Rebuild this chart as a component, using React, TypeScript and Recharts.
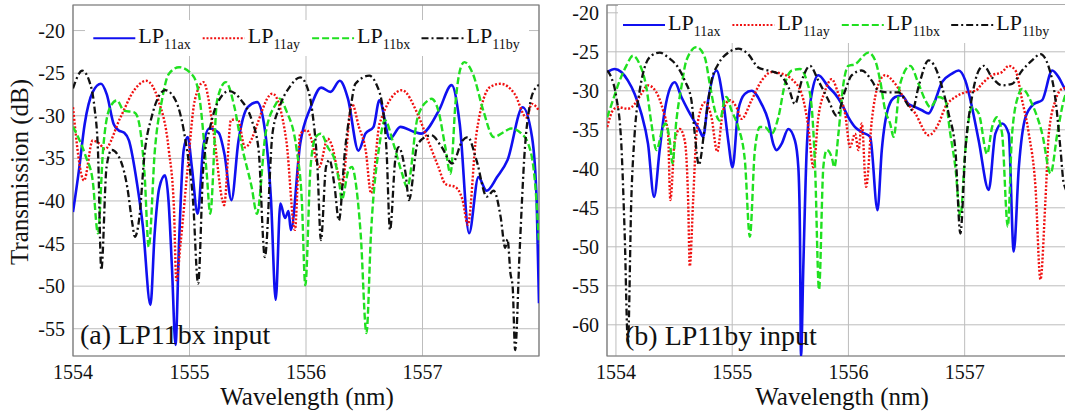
import React from 'react';
import { LineChart, Line, XAxis, YAxis, CartesianGrid, Legend, ReferenceArea } from 'recharts';

type Pt = [number, number];

// ---------- axis / label values ----------
const wavelengthTicks = [1554, 1555, 1556, 1557];
const leftTransTicks = [-55, -50, -45, -40, -35, -30, -25, -20];
const rightTransTicks = [-60, -55, -50, -45, -40, -35, -30, -25, -20];
const seriesNames = ['LP11ax', 'LP11ay', 'LP11bx', 'LP11by'];
const seriesSubs = ['11ax', '11ay', '11bx', '11by'];
const panelTitles = ['(a) LP11bx input', '(b) LP11by input'];
const xTitle = 'Wavelength (nm)';
const yTitle = 'Transmission (dB)';

// ---------- (a) LP11bx input : [wavelength nm, transmission dB] ----------
const inA_LP11ax: Pt[] = [
  [1554.0, -41.3], [1554.05, -36.5], [1554.1, -31], [1554.17, -27.2], [1554.24, -26.25], [1554.29, -27.5],
  [1554.35, -31], [1554.39, -31.7], [1554.44, -32], [1554.48, -32.9], [1554.55, -38], [1554.6, -43],
  [1554.665, -52.2], [1554.7, -44], [1554.74, -38.5], [1554.79, -37.0], [1554.82, -40], [1554.85, -48],
  [1554.88, -56.9], [1554.91, -45], [1554.95, -34], [1554.985, -32.5], [1555.02, -36], [1555.07, -41.5],
  [1555.12, -33.5], [1555.17, -31.5], [1555.25, -32], [1555.3, -34.5], [1555.36, -39.9], [1555.42, -33],
  [1555.5, -29], [1555.58, -28.4], [1555.64, -31], [1555.7, -40], [1555.74, -51.6], [1555.78, -40.3],
  [1555.82, -42], [1555.85, -41.2], [1555.87, -43.4], [1555.95, -33.3], [1556.04, -29], [1556.13, -26.7],
  [1556.21, -27.2], [1556.29, -25.9], [1556.36, -28], [1556.45, -34.1], [1556.51, -32.1], [1556.58, -31.3],
  [1556.63, -28.2], [1556.72, -32.7], [1556.81, -31.3], [1556.93, -31.9], [1556.99, -32.1], [1557.14, -29.4],
  [1557.25, -26.4], [1557.32, -31], [1557.4, -43.8], [1557.48, -37.2], [1557.55, -38.8], [1557.64, -37.2],
  [1557.73, -35.2], [1557.86, -29], [1557.94, -32.5], [1557.98, -40], [1558.0, -52],
];
const inA_LP11ay: Pt[] = [
  [1554.0, -29], [1554.095, -37.6], [1554.169, -32.9], [1554.228, -33.3], [1554.273, -33.9], [1554.407, -30.2],
  [1554.525, -27], [1554.629, -25.9], [1554.733, -28.2], [1554.822, -34], [1554.866, -40.7], [1554.887, -49.3],
  [1554.926, -44.6], [1554.985, -36], [1555.045, -28.2], [1555.119, -26.05], [1555.208, -32.1], [1555.282, -39.9],
  [1555.297, -40.5], [1555.356, -30.5], [1555.415, -30.4], [1555.475, -33.7], [1555.712, -27.4], [1555.831, -32.9],
  [1555.905, -43.4], [1555.95, -32.1], [1556.009, -31.7], [1556.039, -32.5], [1556.113, -36], [1556.187, -32.7],
  [1556.217, -33.3], [1556.276, -36.8], [1556.306, -38.4], [1556.395, -28.6], [1556.454, -31.3], [1556.513, -34.1],
  [1556.558, -39.1], [1556.632, -30.9], [1556.825, -27], [1556.958, -29.8], [1557.047, -32.9], [1557.136, -36],
  [1557.196, -38], [1557.285, -38.4], [1557.344, -39.9], [1557.389, -42.8], [1557.463, -32.1], [1557.582, -26.6],
  [1557.671, -26.25], [1557.789, -27.4], [1557.893, -30.2], [1557.938, -28.6], [1558.0, -29.4],
];
const inA_LP11bx: Pt[] = [
  [1554.0, -31.3], [1554.11, -34.8], [1554.169, -37.6], [1554.214, -43.8], [1554.258, -34], [1554.318, -29],
  [1554.377, -28.2], [1554.436, -29.4], [1554.525, -29.6], [1554.555, -30.2], [1554.614, -36.8], [1554.65, -45.4],
  [1554.703, -34], [1554.763, -28.2], [1554.822, -25.1], [1554.911, -24.3], [1555.03, -25.3], [1555.089, -28.2],
  [1555.148, -36.8], [1555.178, -41.5], [1555.237, -28.2], [1555.312, -26.05], [1555.386, -29], [1555.445, -33.3],
  [1555.534, -38.4], [1555.579, -41.5], [1555.653, -32.1], [1555.742, -28.6], [1555.772, -28], [1555.831, -29.4],
  [1555.92, -34], [1555.964, -39.9], [1555.994, -49.9], [1556.039, -36], [1556.083, -32.5], [1556.128, -32.1],
  [1556.187, -33.7], [1556.246, -35.2], [1556.291, -38.4], [1556.306, -39.9], [1556.365, -36.4], [1556.395, -36],
  [1556.424, -37.6], [1556.469, -43.8], [1556.519, -55.5], [1556.558, -43.8], [1556.632, -33.3], [1556.677, -30.5],
  [1556.751, -33.3], [1556.825, -36.8], [1556.869, -38.4], [1556.958, -30.2], [1557.047, -28.2], [1557.077, -28],
  [1557.136, -29.4], [1557.196, -33.7], [1557.24, -36.8], [1557.285, -28.2], [1557.329, -24.3], [1557.359, -23.7],
  [1557.433, -25.1], [1557.522, -29.4], [1557.611, -32.5], [1557.7, -31.9], [1557.76, -31.5], [1557.849, -32.1],
  [1557.908, -33.3], [1557.967, -38], [1558.0, -45],
];
const inA_LP11by: Pt[] = [
  [1554.0, -26.8], [1554.08, -24.7], [1554.139, -25.9], [1554.184, -29], [1554.214, -34], [1554.243, -48.1],
  [1554.288, -36], [1554.332, -34], [1554.407, -35.2], [1554.466, -38.4], [1554.51, -42.7], [1554.531, -44.2],
  [1554.57, -41.9], [1554.614, -34.5], [1554.674, -30.2], [1554.792, -27], [1554.881, -28.2], [1554.97, -33.3],
  [1555.03, -39.9], [1555.074, -49.7], [1555.119, -36], [1555.178, -31.3], [1555.237, -28.6], [1555.341, -27.1],
  [1555.445, -28.2], [1555.534, -30.5], [1555.593, -34], [1555.647, -46.6], [1555.712, -32.1], [1555.772, -29],
  [1555.861, -26.6], [1555.95, -25.5], [1556.009, -26.6], [1556.053, -29.4], [1556.098, -36], [1556.128, -44.6],
  [1556.172, -36], [1556.202, -35.2], [1556.246, -38.4], [1556.282, -42.3], [1556.335, -34], [1556.38, -29.4],
  [1556.424, -26.25], [1556.543, -25.3], [1556.602, -26.25], [1556.662, -29.4], [1556.691, -34], [1556.721, -43.4],
  [1556.766, -35.2], [1556.795, -33.7], [1556.855, -36.8], [1556.884, -39.9], [1556.958, -33.3], [1557.077, -32.3],
  [1557.166, -33.7], [1557.255, -35.6], [1557.344, -32.9], [1557.389, -32.5], [1557.463, -35.2], [1557.552, -39.5],
  [1557.611, -38.8], [1557.671, -41.9], [1557.71, -45.5], [1557.73, -44.5], [1557.755, -48.5], [1557.774, -50.1],
  [1557.795, -57.5], [1557.834, -45.8], [1557.878, -34], [1557.923, -28.6], [1557.967, -26.8], [1558.0, -26.4],
];

// ---------- (b) LP11by input ----------
const inB_LP11ax: Pt[] = [
  [1553.925, -27.6], [1553.989, -27.2], [1554.046, -27.6], [1554.103, -28.7], [1554.161, -30.4], [1554.218, -32.9],
  [1554.276, -36.8], [1554.328, -43.6], [1554.376, -37.6], [1554.42, -32.5], [1554.463, -29.75], [1554.506, -28.9],
  [1554.563, -30.8], [1554.621, -32.5], [1554.678, -34.0], [1554.721, -35.1], [1554.75, -35.9], [1554.793, -31.2],
  [1554.865, -27.4], [1554.922, -31.2], [1554.966, -36.4], [1555.003, -39.8], [1555.052, -32.5], [1555.109, -30.4],
  [1555.167, -30.0], [1555.253, -31.7], [1555.31, -33.8], [1555.353, -36.8], [1555.382, -37.6], [1555.425, -36.8],
  [1555.483, -34.9], [1555.54, -36.4], [1555.569, -39.8], [1555.583, -48.3], [1555.592, -64], [1555.612, -52.5],
  [1555.641, -37.6], [1555.684, -30.4], [1555.741, -28.0], [1555.828, -29.5], [1555.885, -30.4], [1555.943, -31.7],
  [1556.0, -33.4], [1556.057, -34.65], [1556.115, -35.3], [1556.187, -35.9], [1556.25, -45.3], [1556.287, -37.6],
  [1556.345, -32.1], [1556.402, -30.8], [1556.46, -30.6], [1556.517, -31.7], [1556.575, -32.1], [1556.632, -32.5],
  [1556.69, -32.9], [1556.747, -31.2], [1556.805, -28.9], [1556.891, -27.8], [1556.948, -27.4], [1557.006, -28.7],
  [1557.063, -32.1], [1557.121, -36.4], [1557.207, -42.7], [1557.264, -35.5], [1557.322, -34.2], [1557.379, -35.5],
  [1557.422, -50.6], [1557.466, -39.8], [1557.523, -33.4], [1557.595, -31.7], [1557.667, -31.2], [1557.753, -27.4],
  [1557.81, -28.3], [1557.853, -29.5], [1557.935, -31],
];
const inB_LP11ay: Pt[] = [
  [1553.925, -34.65], [1553.974, -32.5], [1554.017, -32.1], [1554.103, -32.3], [1554.161, -31.7], [1554.218, -30.4],
  [1554.276, -29.3], [1554.348, -30.2], [1554.405, -32.5], [1554.448, -35.5], [1554.468, -44.0], [1554.506, -36.4],
  [1554.549, -34.9], [1554.592, -36.4], [1554.621, -44], [1554.635, -52.5], [1554.664, -44], [1554.693, -35.5],
  [1554.736, -32.1], [1554.764, -31.5], [1554.822, -33.4], [1554.871, -37.8], [1554.922, -32.5], [1554.98, -31.2],
  [1555.037, -32.1], [1555.08, -33.6], [1555.167, -31.2], [1555.253, -28.7], [1555.339, -27.6], [1555.425, -27.8],
  [1555.511, -28.5], [1555.598, -30.4], [1555.655, -34.65], [1555.698, -39.8], [1555.741, -33.4], [1555.799, -30.0],
  [1555.856, -28.5], [1555.914, -30.4], [1555.971, -32.9], [1556.014, -37.2], [1556.057, -35.5], [1556.086, -37.6],
  [1556.115, -34.2], [1556.152, -42.3], [1556.201, -33.8], [1556.259, -29.1], [1556.316, -28.0], [1556.402, -29.1],
  [1556.489, -31.2], [1556.575, -32.9], [1556.69, -35.7], [1556.776, -34.2], [1556.833, -32.1], [1556.92, -30.8],
  [1557.006, -30.2], [1557.092, -30], [1557.149, -29.1], [1557.236, -28.0], [1557.322, -27.6], [1557.379, -26.8],
  [1557.437, -27.4], [1557.494, -31.2], [1557.552, -35.5], [1557.609, -42.3], [1557.652, -54.2], [1557.695, -44],
  [1557.724, -35.5], [1557.782, -31.2], [1557.839, -29.75], [1557.935, -29.5],
];
const inB_LP11bx: Pt[] = [
  [1553.925, -33.4], [1553.974, -31.2], [1554.032, -28.7], [1554.089, -26.8], [1554.147, -25.5], [1554.204, -26.6],
  [1554.261, -29.5], [1554.305, -34.2], [1554.348, -37.6], [1554.405, -34.65], [1554.425, -34.2], [1554.463, -36.4],
  [1554.486, -39.3], [1554.52, -33.8], [1554.563, -29.5], [1554.606, -26.1], [1554.693, -24.4], [1554.764, -25.7],
  [1554.807, -29.1], [1554.851, -32.5], [1554.894, -33.8], [1554.937, -31.0], [1554.951, -30.8], [1554.994, -32.5],
  [1555.052, -34.65], [1555.109, -38.9], [1555.152, -48.7], [1555.195, -37.6], [1555.239, -34.65], [1555.282, -34.65],
  [1555.339, -35.5], [1555.397, -33.4], [1555.454, -29.1], [1555.511, -27.4], [1555.583, -27.2], [1555.641, -28.7],
  [1555.684, -32.1], [1555.713, -39.8], [1555.747, -55.5], [1555.784, -39.8], [1555.813, -37.6], [1555.856, -38.5],
  [1555.879, -39.8], [1555.914, -35.5], [1555.957, -29.1], [1556.0, -26.8], [1556.057, -26.6], [1556.172, -25.1],
  [1556.23, -26.1], [1556.273, -28.7], [1556.316, -32.5], [1556.359, -34.2], [1556.388, -35.9], [1556.445, -29.1],
  [1556.532, -26.8], [1556.603, -29.1], [1556.661, -31.2], [1556.704, -32.1], [1556.776, -30.8], [1556.833, -31.2],
  [1556.876, -35.5], [1556.92, -39.8], [1556.963, -46.1], [1557.006, -37.6], [1557.063, -32.1], [1557.121, -32.9],
  [1557.193, -38.1], [1557.236, -34.65], [1557.279, -33.4], [1557.322, -35.5], [1557.371, -47.4], [1557.408, -35.5],
  [1557.466, -30.4], [1557.494, -29.75], [1557.58, -31.7], [1557.667, -35.5], [1557.739, -40.6], [1557.797, -35.5],
  [1557.853, -31.2], [1557.935, -29],
];
const inB_LP11by: Pt[] = [
  [1553.925, -27.4], [1553.96, -28.3], [1554.003, -30.8], [1554.046, -36.8], [1554.075, -48.3], [1554.103, -62.3],
  [1554.132, -44], [1554.161, -35.5], [1554.204, -30], [1554.247, -27], [1554.305, -25.5], [1554.376, -25.1],
  [1554.448, -25.7], [1554.534, -27], [1554.592, -28.7], [1554.649, -31.2], [1554.678, -35.5], [1554.713, -39.5],
  [1554.764, -34.65], [1554.822, -28.7], [1554.879, -26.6], [1554.966, -25.1], [1555.052, -24.6], [1555.138, -25.3],
  [1555.224, -27], [1555.31, -27.4], [1555.397, -27.8], [1555.483, -29.5], [1555.54, -31.7], [1555.598, -28.7],
  [1555.67, -26.8], [1555.741, -28.7], [1555.828, -31.2], [1555.899, -33.2], [1555.971, -30], [1556.029, -28],
  [1556.115, -27.4], [1556.201, -28.7], [1556.259, -30], [1556.345, -30.2], [1556.431, -30.2], [1556.52, -32],
  [1556.55, -32.5], [1556.603, -29.5], [1556.69, -26.1], [1556.747, -27], [1556.805, -29.5], [1556.862, -32.9],
  [1556.92, -37.6], [1556.963, -48.3], [1557.006, -37.6], [1557.063, -30.8], [1557.121, -27.4], [1557.164, -26.8],
  [1557.236, -28.3], [1557.322, -29.3], [1557.408, -29.1], [1557.494, -27.4], [1557.58, -26.1], [1557.652, -25.3],
  [1557.724, -27], [1557.782, -31.2], [1557.825, -37.6], [1557.853, -41.9], [1557.935, -44],
];

// ---------- styling ----------
const FONT = "'Liberation Serif', 'DejaVu Serif', 'Times New Roman', serif";
const fontStyle = { fontFamily: FONT };
const seriesStyles = [
  { color: '#1010f0', dash: undefined as string | undefined, width: 2.6 },
  { color: '#f01010', dash: '2 1.8', width: 2.4 },
  { color: '#20e020', dash: '7 3', width: 2.4 },
  { color: '#111111', dash: '7 3 2 3', width: 2.3 },
];

const toRows = (pts: Pt[]) => pts.map(([x, y]) => ({ x, y }));

type LegendBoxSpec = { left: number; top: number; width: number; height: number; start: number; lineY: number; textY: number };

type PanelProps = {
  series: Pt[][];
  xDomain: [number, number];
  yDomain: [number, number];
  yTicks: number[];
  width: number;
  yAxisWidth: number;
  marginRight: number;
  legendBox: LegendBoxSpec;
};

const LegendContent = (box: LegendBoxSpec) => () => (
  <svg width={box.width} height={box.height} style={{ display: 'block', background: '#ffffff' }}>
    {seriesStyles.map((s, i) => {
      const x0 = box.start + i * 109.4;
      return (
        <g key={seriesNames[i]}>
          <line x1={x0} x2={x0 + 42} y1={box.lineY} y2={box.lineY} stroke={s.color} strokeWidth={2} strokeDasharray={s.dash} />
          <text x={x0 + 45} y={box.textY} fontFamily={FONT} style={fontStyle} fontSize={22} fill="#111">
            LP
            <tspan fontSize={14} dy={6}>{seriesSubs[i]}</tspan>
          </text>
        </g>
      );
    })}
  </svg>
);

const tickProps = { fontFamily: FONT, style: fontStyle, fontSize: 20, fill: '#111' };

const Panel = (p: PanelProps) => (
  <LineChart width={p.width} height={416} margin={{ top: 5, right: p.marginRight, bottom: 0, left: 0 }} style={fontStyle}>
    <CartesianGrid stroke="#bdbdbd" strokeWidth={1} />
    <XAxis
      dataKey="x"
      type="number"
      domain={p.xDomain}
      ticks={wavelengthTicks}
      interval={0}
      allowDataOverflow
      axisLine={false}
      tickLine={false}
      height={60}
      tickMargin={3}
      tick={tickProps}
    />
    <YAxis
      dataKey="y"
      type="number"
      domain={p.yDomain}
      ticks={p.yTicks}
      interval={0}
      allowDataOverflow
      axisLine={false}
      tickLine={false}
      width={p.yAxisWidth}
      tick={tickProps}
    />
    <ReferenceArea x1={p.xDomain[0]} x2={p.xDomain[1]} y1={p.yDomain[0]} y2={p.yDomain[1]} fill="none" stroke="#7a7a7a" strokeWidth={1.2} ifOverflow="visible" />
    {p.series.map((pts, i) => (
      <Line
        key={seriesNames[i]}
        name={seriesNames[i]}
        data={toRows(pts)}
        dataKey="y"
        type="monotone"
        stroke={seriesStyles[i].color}
        strokeWidth={seriesStyles[i].width}
        strokeDasharray={seriesStyles[i].dash}
        dot={false}
        activeDot={false}
        isAnimationActive={false}
      />
    ))}
    <Legend
      layout="horizontal"
      verticalAlign="middle"
      align="center"
      content={LegendContent(p.legendBox)}
      wrapperStyle={{ position: 'absolute', left: p.legendBox.left, top: p.legendBox.top, width: p.legendBox.width, height: p.legendBox.height }}
    />
  </LineChart>
);

export default function App() {
  return (
    <div style={{ position: 'absolute', left: 0, top: 0, width: 1065, height: 416, overflow: 'hidden', background: '#fff', fontFamily: FONT }}>
      <div style={{ position: 'absolute', left: 0, top: 0 }}>
        <Panel
          series={[inA_LP11ax, inA_LP11ay, inA_LP11bx, inA_LP11by]}
          xDomain={[1554, 1558]}
          yDomain={[-58.2, -17]}
          yTicks={leftTransTicks}
          width={545}
          yAxisWidth={73}
          marginRight={6}
          legendBox={{ left: 85, top: 20, width: 444, height: 36, start: 8.3, lineY: 18.3, textY: 23.3 }}
        />
      </div>
      <div style={{ position: 'absolute', left: 540, top: 0 }}>
        <Panel
          series={[inB_LP11ax, inB_LP11ay, inB_LP11bx, inB_LP11by]}
          xDomain={[1553.923, 1557.932]}
          yDomain={[-64, -19]}
          yTicks={rightTransTicks}
          width={540}
          yAxisWidth={67}
          marginRight={7}
          legendBox={{ left: 78, top: 5, width: 450, height: 38, start: 5, lineY: 20, textY: 25 }}
        />
      </div>
      <svg width={1065} height={416} style={{ position: 'absolute', left: 0, top: 0, pointerEvents: 'none', fontFamily: FONT }}>
        <text x={28} y={172} transform="rotate(-90 28 172)" textAnchor="middle" fontFamily={FONT} fontSize={25} fill="#111">{yTitle}</text>
        <text x={307} y={405} textAnchor="middle" fontFamily={FONT} fontSize={25} fill="#111">{xTitle}</text>
        <text x={842} y={405} textAnchor="middle" fontFamily={FONT} fontSize={25} fill="#111">{xTitle}</text>
        <text x={80} y={344} fontFamily={FONT} fontSize={28} fill="#111">{panelTitles[0]}</text>
        <text x={625} y={345} fontFamily={FONT} fontSize={28} fill="#111">{panelTitles[1]}</text>
      </svg>
    </div>
  );
}
